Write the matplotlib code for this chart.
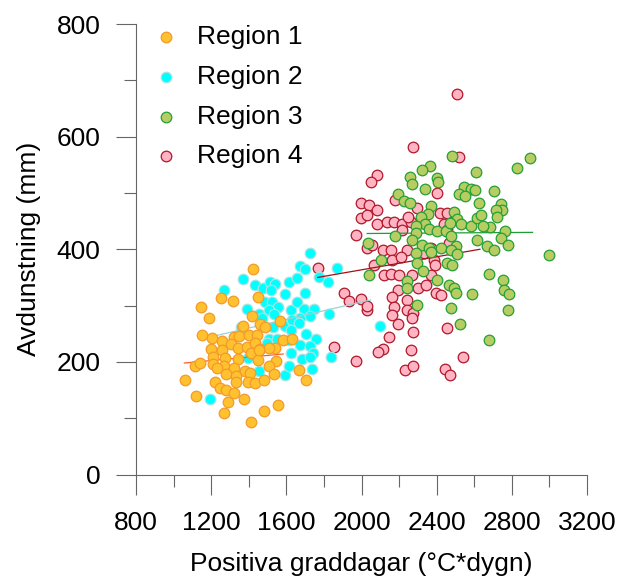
import matplotlib
matplotlib.use("Agg")
import matplotlib.pyplot as plt
from matplotlib.ticker import MultipleLocator

plt.rcParams['font.family'] = ['Liberation Sans', 'DejaVu Sans']

# Region 1 (orange)
r1_x = [1420, 1252, 1316, 1451, 1147, 1188, 1417, 1369, 1461, 1488, 1568, 1150, 1204, 1260,
        1319, 1346, 1399, 1444, 1307, 1200, 1260, 1340, 1390, 1431, 1458, 1541, 1580, 1630,
        1209, 1275, 1342, 1413, 1449, 1547, 1115, 1141, 1207, 1266, 1324, 1381, 1506, 1230,
        1278, 1333, 1408, 1532, 1058, 1218, 1332, 1396, 1431, 1483, 1248, 1280, 1319, 1118,
        1292, 1372, 1556, 1479, 1266, 1413, 1506, 1452, 1666, 1707]
r1_y = [365, 314, 309, 316, 298, 278, 281, 264, 267, 262, 273, 248, 242, 237,
        245, 246, 247, 247, 231, 223, 221, 225, 227, 233, 223, 225, 239, 240,
        209, 207, 205, 215, 204, 201, 193, 198, 196, 193, 189, 184, 192, 189,
        178, 175, 180, 179, 168, 165, 165, 165, 162, 168, 153, 150, 144, 140,
        129, 134, 124, 112, 109, 93, 224, 221, 186, 168]

# Region 2 (cyan)
r2_x = [1369, 1435, 1476, 1511, 1538, 1616, 1268, 1520, 1595, 1488, 1524, 1556, 1390, 1627,
        1506, 1452, 1360, 1527, 1595, 1506, 1627, 1396, 1452, 1595, 1195, 1724, 1671, 1701,
        1870, 1657, 1772, 1822, 1701, 1657, 1692, 1746, 1826, 1532, 1675, 1724, 1630, 1666,
        1627, 1707, 1760, 1550, 1612, 1671, 1728, 1497, 1742, 1684, 1724, 1835, 1612, 1737,
        2096, 1472]
r2_y = [347, 337, 331, 341, 338, 341, 327, 328, 320, 307, 307, 298, 294, 292,
        292, 285, 262, 262, 264, 241, 215, 207, 183, 177, 134, 393, 371, 365,
        367, 349, 350, 341, 322, 307, 294, 294, 285, 285, 278, 282, 275, 269,
        257, 249, 241, 240, 239, 230, 228, 233, 215, 205, 208, 209, 193, 187,
        264, 278]

# Region 3 (green)
r3_x = [2364, 2320, 2258, 2267, 2400, 2409, 2336, 2196, 2226, 2258, 2372, 2354, 2315, 2338,
        2288, 2359, 2404, 2448, 2178, 2288, 2270, 2324, 2359, 2421, 2288, 2036, 2105, 2297,
        2329, 2039, 2244, 2244, 2404, 2293, 2457, 2464, 2480, 2608, 2546, 2581, 2603, 2519,
        2549, 2626, 2492, 2507, 2471, 2528, 2581, 2617, 2475, 2501, 2617, 2898, 2825, 2706,
        2741, 2747, 2715, 2720, 2635, 2684, 2763, 2644, 2741, 2777, 2670, 2706, 2475, 2999,
        2368, 2510, 2676, 2754, 2484, 2492, 2501, 2587, 2759, 2786, 2478, 2777, 2523, 2676]
r3_y = [547, 540, 529, 516, 527, 519, 507, 499, 485, 482, 477, 463, 458, 445,
        441, 436, 433, 432, 423, 428, 417, 408, 402, 402, 393, 412, 381, 375,
        361, 355, 343, 331, 346, 301, 375, 337, 566, 537, 511, 507, 505, 499,
        494, 482, 467, 454, 447, 444, 442, 455, 423, 406, 417, 562, 545, 503,
        481, 470, 469, 457, 461, 439, 433, 441, 420, 408, 405, 399, 399, 389,
        396, 391, 356, 346, 372, 331, 322, 321, 327, 321, 296, 292, 268, 238]

# Region 4 (pink)
r4_x = [2084, 2048, 2400, 2176, 1995, 2039, 2084, 1995, 2030, 2080, 2133, 2172, 2217, 2261,
        2217, 1973, 2297, 2418, 2457, 2030, 2057, 2116, 2158, 2244, 2164, 2208, 2066, 2332,
        2386, 2389, 2119, 2155, 2199, 2270, 2368, 2194, 2300, 2341, 2395, 2421, 1906, 1932,
        1998, 2030, 2164, 2244, 2172, 2244, 2276, 2164, 2270, 2194, 2274, 2146, 2116, 2089,
        2261, 1973, 2229, 2276, 2453, 2443, 2471, 2542, 2276, 2519, 2507, 2247, 2439, 2457,
        2466, 2368, 1767, 2027, 1852]
r4_y = [532, 519, 500, 488, 482, 479, 469, 455, 461, 444, 449, 448, 445, 448,
        435, 426, 473, 464, 464, 402, 408, 398, 399, 398, 381, 386, 372, 393,
        381, 372, 355, 356, 355, 355, 355, 328, 332, 337, 322, 319, 322, 309,
        311, 292, 316, 310, 298, 292, 287, 284, 278, 268, 253, 245, 223, 217,
        221, 201, 186, 192, 260, 187, 176, 208, 582, 564, 675, 458, 444, 435,
        412, 402, 367, 300, 227]

# trend lines (start, end)
t1_x, t1_y = [1057, 1583], [198, 214]
t2_x, t2_y = [1204, 2048], [245, 310]
t3_x, t3_y = [2030, 2910], [428, 430]
t4_x, t4_y = [1767, 2630], [350, 400]

fig = plt.figure(figsize=(6.18, 5.83), dpi=100)
ax = fig.add_axes([0.2201, 0.1861, 0.7298, 0.7727])

ms = 58
p4 = ax.scatter(r4_x, r4_y, s=ms, c='#FFB3C3', edgecolors='#B01828', linewidths=0.9, zorder=2, label='Region 4')
p2 = ax.scatter(r2_x, r2_y, s=ms, c='#00FFFF', edgecolors='#A8E4E4', linewidths=0.9, zorder=2, label='Region 2')
ax.plot(t1_x, t1_y, color='#FF5A2A', lw=0.9, zorder=3)
ax.plot(t2_x, t2_y, color='#9CD2D2', lw=0.9, zorder=3)
ax.plot(t3_x, t3_y, color='#1E9E34', lw=0.9, zorder=3)
ax.plot(t4_x, t4_y, color='#A0101C', lw=0.9, zorder=3)
p3 = ax.scatter(r3_x, r3_y, s=ms, c='#B7CC62', edgecolors='#23A035', linewidths=0.9, zorder=4, label='Region 3')
p1 = ax.scatter(r1_x, r1_y, s=ms, c='#FFC12E', edgecolors='#F39A2B', linewidths=0.9, zorder=4, label='Region 1')

ax.set_xlim(800, 3200)
ax.set_ylim(0, 800)
ax.xaxis.set_major_locator(MultipleLocator(400))
ax.xaxis.set_minor_locator(MultipleLocator(200))
ax.yaxis.set_major_locator(MultipleLocator(200))
ax.yaxis.set_minor_locator(MultipleLocator(100))

for side in ['top', 'right']:
    ax.spines[side].set_visible(False)
for side in ['left', 'bottom']:
    ax.spines[side].set_color('#666666')
    ax.spines[side].set_linewidth(0.8)

ax.tick_params(which='major', direction='out', length=14.4, width=0.8, color='#666666', labelsize=19)
ax.tick_params(which='minor', direction='out', length=8.6, width=0.8, color='#666666')
ax.tick_params(axis='x', which='major', pad=12)
ax.tick_params(axis='y', which='major', pad=11)

ax.set_xlabel('Positiva graddagar (°C*dygn)', fontsize=19, labelpad=12)
ax.set_ylabel('Avdunstning (mm)', fontsize=19, labelpad=11)

ax.legend(handles=[p1, p2, p3, p4], loc='upper left', bbox_to_anchor=(0.039, 0.998),
          frameon=False, fontsize=19, borderpad=0, borderaxespad=0, handlelength=0.95,
          handletextpad=0.7, labelspacing=0.6, scatterpoints=1)

fig.savefig('out.png', dpi=100)
